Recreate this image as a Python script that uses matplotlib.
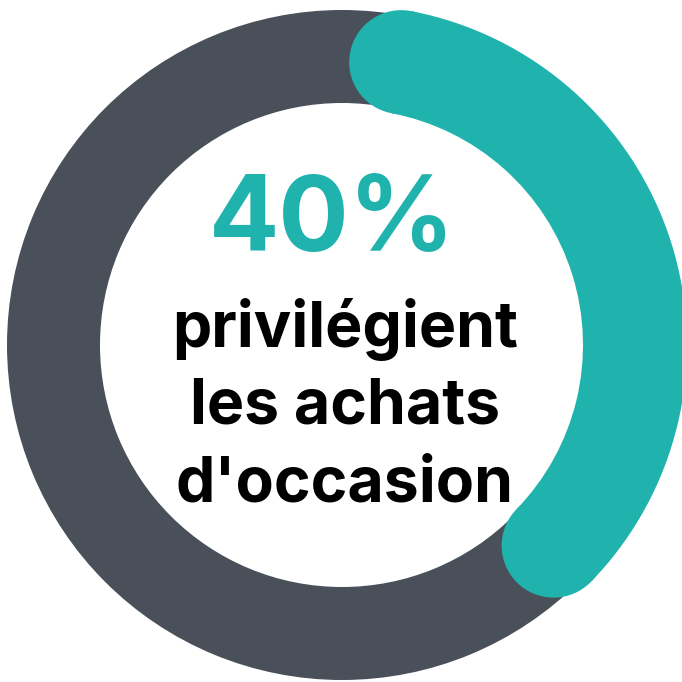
import numpy as np
import matplotlib.pyplot as plt
from matplotlib.patches import Wedge, Circle

# data
share = 40  # percent
pct_label = "40%"
caption_lines = ["privilégient", "les achats", "d'occasion"]

TEAL = "#20b3ad"
GREY = "#4a5059"

W = 682
fig = plt.figure(figsize=(W / 100, W / 100), dpi=100)
ax = fig.add_axes([0, 0, 1, 1])
ax.set_xlim(0, W)
ax.set_ylim(W, 0)
ax.set_aspect("equal")
ax.axis("off")

# grey background ring
cx, cy = 342, 345
r_out, r_in = 335, 242
ax.add_patch(Wedge((cx, cy), r_out, 0, 360, width=r_out - r_in, color=GREY, lw=0))

# teal arc with round ends (angles clockwise from top)
tx, ty = 347, 345
t_out, t_in = 340, 236
t_mid = (t_out + t_in) / 2
cap = (t_out - t_in) / 2
cap_deg = np.degrees(cap / t_mid)
offset = 0.5
a0 = offset + cap_deg
a1 = offset + share / 100 * 360 - cap_deg


def to_mpl(a):
    # clockwise-from-top in a y-down axis -> matplotlib angle
    return a - 90


ax.add_patch(Wedge((tx, ty), t_out, to_mpl(a0), to_mpl(a1), width=t_out - t_in,
                   color=TEAL, lw=0))
for a in (a0, a1):
    r = np.radians(a)
    ax.add_patch(Circle((tx + t_mid * np.sin(r), ty - t_mid * np.cos(r)), cap,
                        color=TEAL, lw=0))

# text
ax.text(332.5, 251, pct_label, color=TEAL, fontsize=75, fontweight="bold",
        family="Inter", ha="center", va="baseline")
for y, s in zip([347, 423, 502], caption_lines):
    ax.text(345, y, s, color="black", fontsize=45, fontweight="bold",
            family="Inter", ha="center", va="baseline")

fig.savefig("out.png", dpi=100, facecolor="white")
